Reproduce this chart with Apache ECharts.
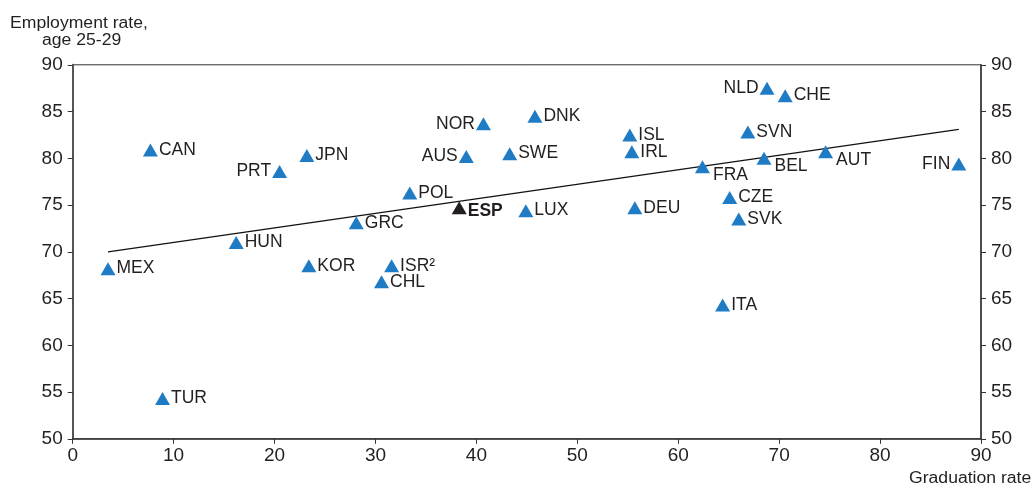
<!DOCTYPE html>
<html>
<head>
<meta charset="utf-8">
<script src="https://cdn.jsdelivr.net/npm/echarts@6/dist/echarts.min.js"></script>
<style>
html,body{margin:0;padding:0;background:#fff;}
#chart{width:1035px;height:485px;}
</style>
</head>
<body>
<div id="chart"></div>
<script>
// ---- Data ----
const countries = ["MEX","CAN","TUR","HUN","PRT","JPN","KOR","GRC","CHL","ISR²","POL","ESP","AUS","NOR","SWE","LUX","DNK","ISL","IRL","DEU","FRA","ITA","CZE","SVK","SVN","BEL","NLD","CHE","AUT","FIN"];
const graduationRate = [3.5,7.7,8.9,16.2,20.5,23.2,23.4,28.1,30.6,31.6,33.4,38.3,39.0,40.7,43.3,44.9,45.8,55.2,55.4,55.7,62.4,64.4,65.1,66.0,66.9,68.5,68.8,70.6,74.6,87.8];
const employmentRate = [68.2,80.9,54.3,71.0,78.6,80.3,68.5,73.1,66.8,68.5,76.3,74.7,80.2,83.7,80.5,74.4,84.5,82.5,80.7,74.7,79.1,64.3,75.8,73.5,82.8,80.0,87.5,86.7,80.7,79.4];
const trendX = [3.5, 87.8];
const trendY = [70.0, 83.1];
const xTicks = {min:0, max:90, interval:10};
const yTicks = {min:50, max:90, interval:5};

// ---- Styles (label placement) ----
const leftLabels = ["PRT","NOR","AUS","NLD","FIN"];
const belowRightLabels = ["FRA","BEL","AUT"];
const highlight = "ESP";

const blue = "#1f7cc4";
const ink = "#231f20";
const font = "'Liberation Sans', Arial, Helvetica, sans-serif";

const points = countries.map((c,i)=>{
  let label = {show:true, formatter:c, position:'right', distance:1, color:ink, fontSize:17.5, fontFamily:font};
  if (leftLabels.includes(c)) label.position='left';
  if (belowRightLabels.includes(c)) { label.position='right'; label.offset=[2,8]; }
  const item = {value:[graduationRate[i], employmentRate[i]], label};
  if (c===highlight) {
    item.itemStyle = {color:ink, opacity:1};
    label.fontWeight='bold';
    label.offset=[0,3];
  }
  return item;
});

const chart = echarts.init(document.getElementById('chart'));
const axisLabelStyle = {fontSize:19, color:ink, fontFamily:font};
chart.setOption({
  animation:false,
  grid:{left:72.7, right:54, top:64.8, bottom:46.2, show:true, borderColor:'#333', borderWidth:1},
  xAxis:{type:'value', min:xTicks.min, max:xTicks.max, interval:xTicks.interval,
    axisLine:{lineStyle:{color:'#333', width:1.5}},
    axisTick:{show:true, inside:false, length:5, lineStyle:{color:'#333'}},
    axisLabel:Object.assign({margin:7}, axisLabelStyle),
    splitLine:{show:false}},
  yAxis:[
    {type:'value', min:yTicks.min, max:yTicks.max, interval:yTicks.interval, position:'left',
      axisLine:{show:true, lineStyle:{color:'#555', width:2}},
      axisTick:{show:true, inside:false, length:5, lineStyle:{color:'#333'}},
      axisLabel:Object.assign({margin:10}, axisLabelStyle),
      splitLine:{show:false}},
    {type:'value', min:yTicks.min, max:yTicks.max, interval:yTicks.interval, position:'right',
      axisLine:{show:true, lineStyle:{color:'#333', width:1.5}},
      axisTick:{show:true, inside:false, length:5, lineStyle:{color:'#333'}},
      axisLabel:Object.assign({margin:10}, axisLabelStyle),
      splitLine:{show:false}}
  ],
  graphic:[
    {type:'text', x:10, y:16, scaleX:1.1, style:{text:'Employment rate,', font:"16px "+font, fill:ink}},
    {type:'text', x:42, y:33, scaleX:1.1, style:{text:'age 25-29', font:"16px "+font, fill:ink}},
    {type:'text', x:909, y:471, scaleX:1.1, style:{text:'Graduation rate', font:"16px "+font, fill:ink}}
  ],
  series:[
    {type:'line', data:trendX.map((x,i)=>[x,trendY[i]]), symbol:'none', lineStyle:{color:'#111', width:1.2}, z:1, silent:true},
    {type:'scatter', data:points, symbol:'triangle', symbolSize:[15,13], itemStyle:{color:blue, opacity:1}, z:3}
  ]
});
</script>
</body>
</html>
